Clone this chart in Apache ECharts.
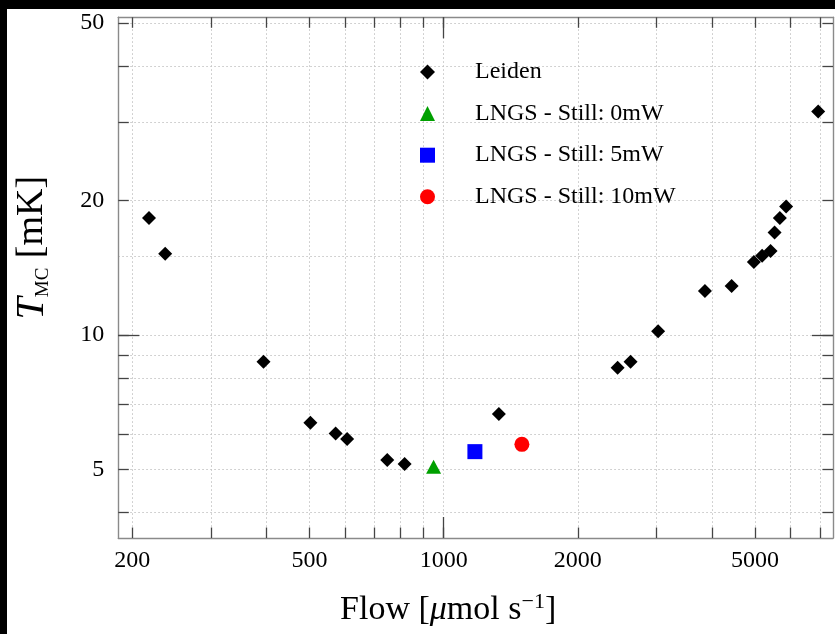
<!DOCTYPE html>
<html>
<head>
<meta charset="utf-8">
<script src="https://cdn.jsdelivr.net/npm/echarts@6/dist/echarts.min.js"></script>
<style>
  html, body { margin: 0; padding: 0; background: #000; }
  #chart { position: absolute; left: 7px; top: 9px; width: 828px; height: 625px; background: #fff; }
</style>
</head>
<body>
<div id="chart"></div>
<script>
// Leiden measurements
const leidenFlow = [218, 237, 394, 502, 572, 607, 747, 817, 1330, 2457, 2627, 3029, 3858, 4429, 4969, 5185, 5416, 5530, 5683, 5871, 6928];
const leidenTemp = [18.3, 15.2, 8.71, 6.36, 6.02, 5.85, 5.25, 5.14, 6.65, 8.45, 8.71, 10.2, 12.55, 12.87, 14.58, 15.05, 15.43, 16.96, 18.29, 19.4, 31.66];
// LNGS points
const lngs0 = [[949, 5.07]];
const lngs5 = [[1175, 5.48]];
const lngs10 = [[1498, 5.69]];

// ticks
const xTicks = [200, 300, 400, 500, 600, 700, 800, 900, 1000, 2000, 3000, 4000, 5000, 6000, 7000];
const xLabels = [200, 500, 1000, 2000, 5000];
const xMajor = [1000];
const yTicks = [4, 5, 6, 7, 8, 9, 10, 20, 30, 40, 50];
const yLabels = [5, 10, 20, 50];
const yMajor = [10];
const yExtraGrid = [15];

const X_MIN = 186, X_MAX = 7480, Y_MIN = 3.51, Y_MAX = 51.5;

const serif = "'Liberation Serif', 'DejaVu Serif', serif";
const chart = echarts.init(document.getElementById('chart'));

function xAxisDef(pos, ticks, len, opts) {
  return Object.assign({
    type: 'log', position: pos, min: X_MIN, max: X_MAX,
    axisLine: { show: false, onZero: false },
    axisTick: { show: true, inside: true, length: len, customValues: ticks, lineStyle: { color: '#444', width: 1.3 } },
    axisLabel: { show: false },
    splitLine: { show: false }
  }, opts || {});
}
function yAxisDef(pos, ticks, len, opts) {
  return Object.assign({
    type: 'log', position: pos, min: Y_MIN, max: Y_MAX,
    axisLine: { show: false, onZero: false },
    axisTick: { show: true, inside: true, length: len, customValues: ticks, lineStyle: { color: '#444', width: 1.3 } },
    axisLabel: { show: false },
    splitLine: { show: false }
  }, opts || {});
}

const gridLine = { show: true, lineStyle: { color: '#c4c4c4', width: 1, type: [1.5, 2.5] } };
const axisLine = { show: true, onZero: false, lineStyle: { color: '#8a8a8a', width: 1.4 } };
const plain = v => String(Math.round(v));

const option = {
  animation: false,
  backgroundColor: '#fff',
  grid: { left: 111.3, top: 8.3, right: 2, bottom: 96, containLabel: false, outerBoundsMode: 'none' },
  xAxis: [
    xAxisDef('bottom', xTicks, 10.5, {
      axisLine: axisLine,
      splitLine: gridLine,
      axisLabel: { show: true, customValues: xLabels, formatter: plain, margin: 11, color: '#000', fontFamily: serif, fontSize: 24 },
      name: '{a|Flow [}{i|μ}{a|mol s}{sup|−1}{a|]}',
      nameLocation: 'middle',
      nameGap: 53,
      nameTextStyle: {
        padding: [0, 55, 0, 0],
        rich: {
          a: { fontFamily: serif, fontSize: 34, color: '#000', lineHeight: 38 },
          i: { fontFamily: serif, fontStyle: 'italic', fontSize: 34, color: '#000', lineHeight: 38 },
          sup: { fontFamily: serif, fontSize: 22, color: '#000', verticalAlign: 'top', lineHeight: 22 }
        }
      }
    }),
    xAxisDef('bottom', xMajor, 21),
    xAxisDef('top', xTicks, 10.5, { axisLine: axisLine }),
    xAxisDef('top', xMajor, 21)
  ],
  yAxis: [
    yAxisDef('left', yTicks, 10.5, {
      axisLine: axisLine,
      splitLine: gridLine,
      axisLabel: { show: true, customValues: yLabels, formatter: plain, margin: 14, color: '#000', fontFamily: serif, fontSize: 24 },
      name: '{i|T}{sub|MC}{a| [mK]}',
      nameLocation: 'middle',
      nameGap: 66,
      nameTextStyle: {
        padding: [0, 0, 0, 60],
        rich: {
          a: { fontFamily: serif, fontSize: 38, color: '#000', lineHeight: 40 },
          i: { fontFamily: serif, fontStyle: 'italic', fontSize: 40, color: '#000', lineHeight: 40 },
          sub: { fontFamily: serif, fontSize: 19, color: '#000', verticalAlign: 'bottom', lineHeight: 19 }
        }
      }
    }),
    yAxisDef('left', yMajor, 21),
    yAxisDef('right', yTicks, 10.5, { axisLine: axisLine }),
    yAxisDef('right', yMajor, 21),
    yAxisDef('left', yExtraGrid, 0, { axisTick: { show: false, customValues: yExtraGrid }, splitLine: gridLine })
  ],
  legend: {
    orient: 'vertical',
    left: 413,
    top: 51,
    padding: 0,
    itemWidth: 15,
    itemHeight: 15,
    itemGap: 17.6,
    textStyle: { fontFamily: serif, fontSize: 24, color: '#000', lineHeight: 24, padding: [0, 0, 0, 35] },
    data: ['Leiden', 'LNGS - Still: 0mW', 'LNGS - Still: 5mW', 'LNGS - Still: 10mW']
  },
  series: [
    {
      name: 'Leiden', type: 'scatter', symbol: 'diamond', symbolSize: 14,
      itemStyle: { color: '#000', opacity: 1 },
      data: leidenFlow.map((f, i) => [f, leidenTemp[i]])
    },
    {
      name: 'LNGS - Still: 0mW', type: 'scatter', symbol: 'triangle', symbolSize: [15, 14],
      itemStyle: { color: '#00a000', opacity: 1 }, data: lngs0
    },
    {
      name: 'LNGS - Still: 5mW', type: 'scatter', symbol: 'rect', symbolSize: 15,
      itemStyle: { color: '#0000ff', opacity: 1 }, data: lngs5
    },
    {
      name: 'LNGS - Still: 10mW', type: 'scatter', symbol: 'circle', symbolSize: 15,
      itemStyle: { color: '#ff0000', opacity: 1 }, data: lngs10
    }
  ]
};

chart.setOption(option);
</script>
</body>
</html>
